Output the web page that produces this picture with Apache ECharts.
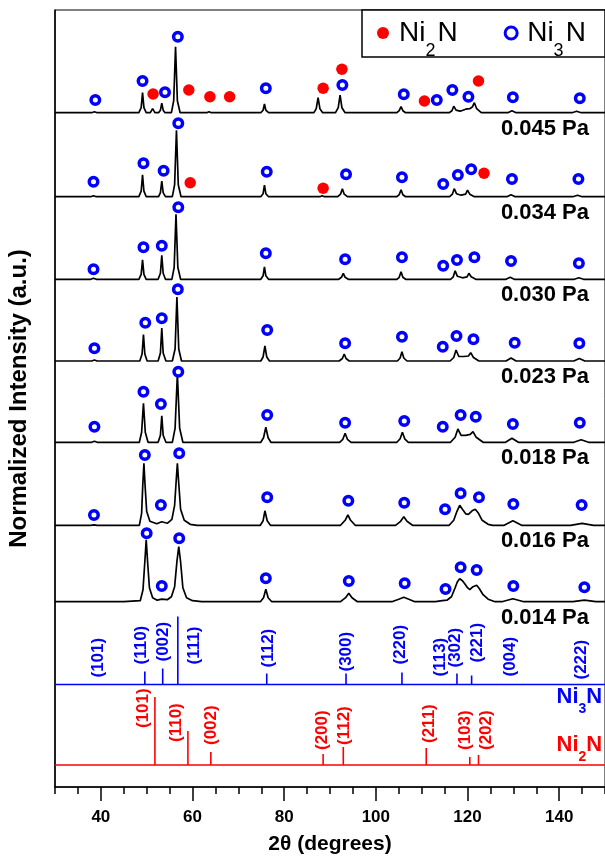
<!DOCTYPE html>
<html>
<head>
<meta charset="utf-8">
<script src="https://cdn.jsdelivr.net/npm/echarts@6/dist/echarts.min.js"></script>
<style>
  html, body { margin: 0; padding: 0; background: #fff; }
  #chart { width: 605px; height: 858px; }
</style>
</head>
<body>
<div id="chart"></div>
<script>
// XRD patterns, 2θ (deg) / intensity above each pattern's own baseline
const p045 = [[30,0],[38.0,0],[38.6,1],[39.2,0],
  [48.3,0],[48.8,5],[49.1,20],[49.4,5],[49.9,0],
  [50.8,0],[51.3,4],[51.8,0],
  [52.6,0],[53.0,2.5],[53.3,9.5],[53.6,2.5],[54.0,0],
  [55.4,0],[55.9,12],[56.3,66],[56.7,12],[57.3,0],
  [57.9,0],[58.3,2],[58.8,0],
  [63.1,0],[63.6,1],[64.1,0],
  [74.9,0],[75.4,2.5],[75.7,8.7],[76.0,2.5],[76.6,0],
  [86.5,0],[87.0,4],[87.4,15],[87.8,4],[88.4,0],
  [91.2,0],[91.8,5],[92.2,17.7],[92.6,5],[93.3,0],
  [104.6,0],[105.1,2],[105.5,6],[105.9,2],[106.5,0],
  [116.0,0],[116.6,2],[117.0,6.5],[117.5,2.5],[118.4,1.5],[119.6,3.5],[120.5,4],[121.1,6],[121.5,10],[122.0,4],[123.0,0],
  [128.8,0],[129.7,2],[130.6,0],
  [142.8,0],[143.8,1.5],[144.8,0],[150,0]];
const p034 = [[30,0],[37.8,0],[38.4,1],[39.0,0],
  [48.3,0],[48.8,5.5],[49.1,22],[49.4,5.5],[49.9,0],
  [52.6,0],[53.0,4],[53.3,15.5],[53.6,4],[54.1,0],
  [55.6,0],[56.1,12],[56.5,66.5],[56.9,12],[57.5,0],
  [58.9,0],[59.3,1],[59.7,0],
  [74.9,0],[75.4,3],[75.7,11.5],[76.0,3],[76.6,0],
  [87.8,0],[88.3,1],[88.8,0],
  [91.7,0],[92.3,2.5],[92.7,8],[93.1,2.5],[93.8,0],
  [104.6,0],[105.1,2],[105.5,7],[105.9,2],[106.5,0],
  [116.1,0],[116.7,2.5],[117.1,8],[117.6,3],[118.6,1.5],[119.6,2.5],[120.0,6.5],[120.5,2.5],[121.5,0],
  [128.6,0],[129.5,2],[130.4,0],
  [143.0,0],[144.0,1.5],[145.0,0],[150,0]];
const p030 = [[30,0],[37.8,0],[38.4,1],[39.0,0],
  [48.3,0],[48.8,5],[49.1,19.5],[49.4,5],[49.9,0],
  [52.5,0],[53.0,6],[53.3,24],[53.6,6],[54.1,0],
  [55.5,0],[56.0,12],[56.4,65],[56.8,12],[57.4,0],
  [74.9,0],[75.4,3.5],[75.7,12.5],[76.0,3.5],[76.6,0],
  [91.9,0],[92.5,2],[92.9,6],[93.3,2],[94.0,0],
  [104.6,0],[105.1,2],[105.5,7.5],[105.9,2],[106.5,0],
  [116.3,0],[116.9,2.5],[117.3,8.5],[117.8,3],[118.9,1.5],[119.9,2.5],[120.3,6],[120.8,2.5],[121.8,0],
  [128.4,0],[129.3,2],[130.2,0],
  [143.3,0],[144.3,1.5],[145.3,0],[150,0]];
const p023 = [[30,0],[38.0,0],[38.6,1],[39.2,0],
  [48.5,0],[49.0,7],[49.3,26.5],[49.6,7],[50.1,0],
  [52.5,0],[53.0,8],[53.3,33],[53.6,8],[54.2,0],
  [55.6,0],[56.2,12],[56.6,64],[57.0,12],[57.6,0],
  [74.9,0],[75.4,4],[75.8,15],[76.2,4],[76.8,0],
  [92.0,0],[92.7,2.5],[93.1,7],[93.5,2.5],[94.2,0],
  [104.7,0],[105.3,3],[105.7,9.3],[106.1,3],[106.8,0],
  [116.2,0],[117.0,3.5],[117.5,11],[118.1,4.5],[119.2,4.5],[120.2,5],[120.7,8.3],[121.3,3.5],[122.5,0],
  [128.4,0],[129.5,3],[130.6,0],
  [143.2,0],[144.4,2.5],[145.6,0],[150,0]];
const p018 = [[30,0],[38.0,0],[38.6,1],[39.2,0],
  [48.4,0],[48.9,10],[49.3,39],[49.7,10],[50.3,0],
  [52.5,0],[53.0,7],[53.3,26.5],[53.6,7],[54.2,0],
  [55.6,0],[56.2,14],[56.7,68],[57.2,14],[57.9,0],
  [74.9,0],[75.5,4.5],[76.0,15],[76.5,4.5],[77.1,0],
  [92.1,0],[92.8,3],[93.3,9],[93.8,3],[94.6,0],
  [104.6,0],[105.3,3.5],[105.8,10],[106.3,3.5],[107.1,0],
  [116.3,0],[117.3,5],[117.9,13.3],[118.6,7],[119.6,7],[120.6,8],[121.2,10.7],[121.9,5],[123.4,0],
  [128.3,0],[129.7,4],[131.1,0],
  [143.2,0],[144.8,2.5],[146.4,0],[150,0]];
const p016 = [[30,0],[37.8,0],[38.5,0.5],[39.2,0],
  [48.4,0],[48.9,12],[49.15,40],[49.4,62],[49.65,40],[50.0,14],[50.7,4],[52.2,1.5],[53.3,3.5],[54.5,2],
  [55.5,6],[56.1,20],[56.45,45],[56.7,62],[56.95,45],[57.4,16],[58.2,5],[59.5,1],[61.0,0],
  [74.8,0],[75.4,4.5],[75.8,14.5],[76.3,4.5],[77.0,0],
  [92.3,0],[93.3,5],[93.9,10.3],[94.5,5],[95.5,0],
  [104.3,0],[105.4,4],[106.1,8.6],[106.8,4],[108.0,0],
  [116.0,0],[117.0,5],[117.7,14],[118.3,20],[118.9,16],[119.6,11.5],[120.2,11],[121.0,14.5],[121.7,16],[122.4,12],[123.2,5],[124.5,1],[125.5,0],
  [128.0,0],[129.9,4.5],[131.8,0],
  [142.5,0],[145.0,2],[147.5,0],[150,0]];
const p014 = [[30,0],[45.0,0],[48.6,1],[49.2,12],[49.6,40],[49.9,62],[50.2,40],[50.6,14],[51.3,4],[52.3,1.5],[53.3,2.5],[54.5,2],
  [55.4,5],[56.1,15],[56.6,40],[57.0,55],[57.4,40],[57.9,14],[58.7,4],[60.0,1],[62.0,0],
  [74.8,0],[75.5,4],[76.0,12.4],[76.5,4],[77.3,0],
  [92.3,0],[93.4,4],[94.1,8.4],[94.8,4],[96.0,0],
  [103.5,0],[105.0,2.5],[106.1,4.4],[107.2,2.5],[108.5,0],
  [113.0,0],[114.5,1],[115.5,1.5],[116.5,5],[117.3,14],[117.8,20],[118.3,23],[118.6,24.5],[118.9,21],[119.4,18],[120.0,14],[120.5,12],[121.2,15],[122.0,16.5],[122.6,13],[123.4,7],[124.5,2.5],[126.0,0],
  [127.5,0],[129.9,3],[132.3,0],
  [143.0,0],[145.5,1.5],[148.0,0],[150,0]];

const patterns = [p045, p034, p030, p023, p018, p016, p014];
const pressures = ["0.045 Pa", "0.034 Pa", "0.030 Pa", "0.023 Pa", "0.018 Pa", "0.016 Pa", "0.014 Pa"];
const baselines = [674.3, 590.3, 507.7, 426, 344.7, 261.7, 185.3]; // 堆疊位移

// Ni3N (open circle) marks per pattern: [2θ, height above baseline]
const ni3nMarks = [
  [[38.8,12.7],[49.1,31.7],[54.0,20.4],[56.8,76],[76.0,24.4],[92.7,27.7],[106.1,18.4],[113.3,12.7],[116.7,22.7],[120.2,16],[129.9,15.4],[144.5,14.4]],
  [[38.4,15],[49.3,33.4],[53.7,26],[56.9,73.4],[76.2,25],[93.5,22.4],[105.7,19.4],[114.7,12.7],[117.9,21.7],[120.8,27.4],[129.7,17.7],[144.2,17.7]],
  [[38.4,10],[49.3,32],[53.3,33.6],[56.9,72],[76.0,26],[93.3,20],[105.7,22],[114.7,13.6],[117.7,19.3],[121.5,22],[129.5,18.3],[144.3,16]],
  [[38.6,12.7],[49.7,38.3],[53.3,42.7],[56.8,71.7],[76.3,31],[93.3,17.7],[105.7,24.3],[114.6,14.3],[117.6,25],[121.3,21.7],[130.3,18.3],[144.4,17.7]],
  [[38.6,15.6],[49.3,50.6],[53.1,38.3],[56.9,70.6],[76.3,27.3],[93.3,19.6],[106.2,21.3],[114.6,15.6],[118.5,27.3],[121.8,25.6],[129.9,18.3],[144.5,19.6]],
  [[38.5,10.3],[49.6,70.3],[53.1,20.3],[57.1,72],[76.3,28],[94.0,24.6],[106.2,22.6],[115.1,16],[118.5,32],[122.5,28],[130.0,21.3],[144.9,20.3]],
  [[50.0,68.4],[53.3,15.7],[57.1,63.4],[76.0,23.4],[94.1,20.7],[106.3,18.4],[115.2,12.7],[118.5,34.4],[122.0,31.7],[130.0,15.7],[145.5,14.4]]
];
// Ni2N (filled dot) marks, only 0.045 and 0.034 Pa
const ni2nMarks = [
  [[51.4,18.7],[59.2,22.7],[63.8,16],[68.1,16],[88.5,24.4],[92.6,43.4],[110.6,11.7],[122.4,31.7]],
  [[59.5,14],[88.5,8.4],[123.6,23.4]],
  [], [], [], [], []
];

// reference stick patterns
const ni3nBase = 102.5;
const ni3nSticks = [[38.6,2],[49.6,13],[53.5,16],[56.8,68],[76.2,11],[93.5,11],[105.7,12],[114.4,2],[117.7,11],[120.9,9],[129.1,2],[144.7,2]];
const ni3nHkl = ["(101)","(110)","(002)","(111)","(112)","(300)","(220)","(113)","(302)","(221)","(004)","(222)"];
const ni3nLabelX = [39.4, 48.9, 53.6, 60.3, 76.6, 93.6, 105.3, 114.1, 117.3, 122.1, 129.3, 144.9];
const ni3nLabelY = [7, 20, 23, 20, 17, 13, 20, 8, 17, 22, 8, 5];

const ni2nBase = 22;
const ni2nSticks = [[40.5,1],[51.8,68],[59.0,34],[64.0,13],[88.5,11],[92.9,18],[111.0,17],[120.5,8],[122.4,10]];
const ni2nHkl = ["(101)","(110)","(002)","(200)","(112)","(211)","(103)","(202)"];
const ni2nLabelX = [49.3, 56.5, 64.2, 88.3, 93.2, 111.6, 119.6, 124.1];
const ni2nLabelY = [37, 23, 20, 15, 20, 22, 15, 15];

const majorTicks = [40, 60, 80, 100, 120, 140];
const FONT = "'Liberation Sans', Arial, sans-serif";
const BLUE = "#0000ff";
const RED = "#ff0000";

const myChart = echarts.init(document.getElementById("chart"));

// 將棒狀圖轉成折線路徑
function stickPath(sticks, base) {
  let path = [[30, base]];
  sticks.forEach(([x, h]) => {
    path.push([x, base], [x, base + h], [x, base]);
  });
  path.push([150, base]);
  return path;
}

let series = [];

patterns.forEach((pat, i) => {
  series.push({
    type: "line",
    showSymbol: false,
    silent: true,
    lineStyle: { color: "#000", width: 1.7 },
    data: pat.map(([x, y]) => [x, baselines[i] + y]),
    z: 2
  });
});

series.push({
  type: "line", showSymbol: false, silent: true,
  lineStyle: { color: BLUE, width: 1.6 },
  data: stickPath(ni3nSticks, ni3nBase)
});
series.push({
  type: "line", showSymbol: false, silent: true,
  lineStyle: { color: RED, width: 1.6 },
  data: stickPath(ni2nSticks, ni2nBase)
});

// phase markers
series.push({
  name: "Ni2N",
  type: "scatter",
  symbol: "circle",
  symbolSize: 11.5,
  itemStyle: { color: RED, opacity: 1 },
  data: ni2nMarks.flatMap((marks, i) => marks.map(([x, y]) => [x, baselines[i] + y])),
  z: 5
});
series.push({
  name: "Ni3N",
  type: "scatter",
  symbol: "circle",
  symbolSize: 8.5,
  itemStyle: { color: "#fff", borderColor: BLUE, borderWidth: 3.5, opacity: 1 },
  data: ni3nMarks.flatMap((marks, i) => marks.map(([x, y]) => [x, baselines[i] + y])),
  z: 5
});

// Miller index labels (rotated)
function hklSeries(hkl, xs, ys, base, color) {
  return {
    type: "scatter",
    symbolSize: 0,
    silent: true,
    itemStyle: { opacity: 1 },
    data: hkl.map((t, i) => ({ value: [xs[i], base + ys[i]], name: t })),
    label: {
      show: true,
      position: "inside",
      rotate: 90,
      align: "left",
      verticalAlign: "middle",
      formatter: (p) => p.name,
      color: color,
      fontFamily: FONT,
      fontWeight: "bold",
      fontSize: 17
    },
    z: 6
  };
}
series.push(hklSeries(ni3nHkl, ni3nLabelX, ni3nLabelY, ni3nBase, BLUE));
series.push(hklSeries(ni2nHkl, ni2nLabelX, ni2nLabelY, ni2nBase, RED));

// pressure labels
series.push({
  type: "scatter",
  symbolSize: 0,
  silent: true,
  itemStyle: { opacity: 1 },
  data: pressures.map((t, i) => ({ value: [146.5, baselines[i] - 16], name: t })),
  label: {
    show: true, position: "inside", align: "right", verticalAlign: "middle",
    formatter: (p) => p.name,
    color: "#000", fontFamily: FONT, fontWeight: "bold", fontSize: 22
  },
  z: 6
});

// phase names at right of the stick patterns
series.push({
  type: "scatter",
  symbolSize: 0,
  silent: true,
  itemStyle: { opacity: 1 },
  data: [
    { value: [149.4, ni3nBase - 12.5], name: "{b|Ni}{s|3}{b|N}", color: BLUE },
    { value: [149.4, ni2nBase + 20], name: "{b|Ni}{s|2}{b|N}", color: RED }
  ].map((d) => ({
    value: d.value, name: d.name,
    label: { rich: { b: { color: d.color }, s: { color: d.color } } }
  })),
  label: {
    show: true, position: "inside", align: "right", verticalAlign: "middle",
    formatter: (p) => p.name,
    fontFamily: FONT, fontWeight: "bold", fontSize: 22,
    rich: {
      b: { fontFamily: FONT, fontWeight: "bold", fontSize: 22 },
      s: { fontFamily: FONT, fontWeight: "bold", fontSize: 14, padding: [24, 0, 0, 0] }
    }
  },
  z: 6
});

let option = {
  animation: false,
  backgroundColor: "#fff",
  grid: {
    left: 55, right: 0, top: 10, bottom: 71,
    outerBoundsMode: "none",
    show: true, borderColor: "#000", borderWidth: 1
  },
  legend: {
    data: ["Ni2N", { name: "Ni3N", itemStyle: { borderWidth: 3 } }],
    left: 377,
    top: 19,
    padding: 0,
    itemWidth: 18,
    itemHeight: 12,
    itemGap: 46,
    formatter: (name) => name === "Ni2N" ? "{b|Ni}{s|2}{b|N}" : "{b|Ni}{s|3}{b|N}",
    textStyle: {
      fontFamily: FONT, fontSize: 28, color: "#000",
      rich: {
        b: { fontFamily: FONT, fontSize: 28, color: "#000", padding: [0, 0, 0, 2] },
        s: { fontFamily: FONT, fontSize: 18, color: "#000", padding: [36, 0, 0, 0] }
      }
    },
    z: 10
  },
  graphic: [{
    type: "rect",
    shape: { x: 362, y: 10, width: 243, height: 47 },
    style: { fill: "#fff", stroke: "#000", lineWidth: 1.5 },
    z: 8
  }],
  xAxis: [
    {
      type: "value", position: "bottom", min: 30, max: 150, interval: 5,
      axisLine: { show: false },
      axisTick: { length: 7, lineStyle: { color: "#000", width: 1.5 } },
      axisLabel: { show: false },
      splitLine: { show: false }
    },
    {
      type: "value", position: "bottom", min: 30, max: 150,
      axisLine: { lineStyle: { color: "#000", width: 1.5 } },
      axisTick: { customValues: majorTicks, length: 14, lineStyle: { color: "#000", width: 1.5 } },
      axisLabel: {
        customValues: majorTicks, margin: 22, color: "#000",
        fontFamily: FONT, fontWeight: "bold", fontSize: 17
      },
      splitLine: { show: false },
      name: "2θ (degrees)",
      nameLocation: "middle",
      nameGap: 47,
      nameTextStyle: { fontFamily: FONT, fontWeight: "bold", fontSize: 21, color: "#000" }
    }
  ],
  yAxis: {
    type: "value", min: 0, max: 777,
    axisLine: { show: true, lineStyle: { color: "#000", width: 1.5 } },
    axisTick: { show: false },
    axisLabel: { show: false },
    splitLine: { show: false },
    name: "Normalized Intensity (a.u.)",
    nameLocation: "middle",
    nameGap: 24,
    nameTextStyle: { fontFamily: FONT, fontWeight: "bold", fontSize: 24, color: "#000" }
  },
  series: series
};

myChart.setOption(option);
</script>
</body>
</html>
